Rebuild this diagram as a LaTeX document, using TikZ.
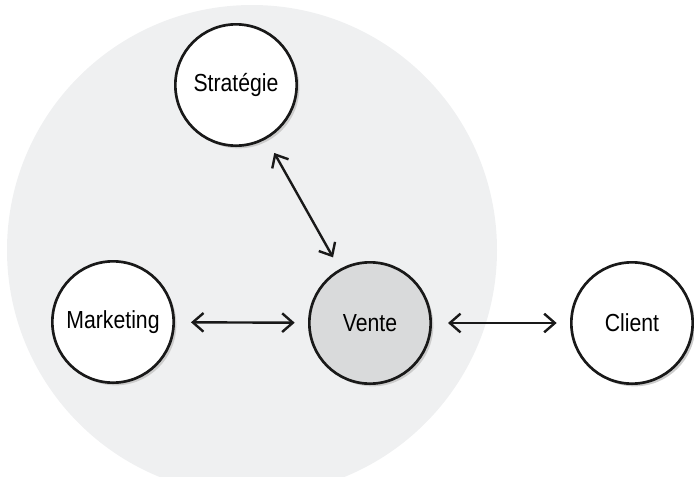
\documentclass[tikz,border=0pt]{standalone}
\usepackage{fontspec}
\setmainfont{Liberation Sans}[FakeStretch=0.86]
\usetikzlibrary{arrows.meta,shadows}

\definecolor{zone}{HTML}{EFF0F1}
\definecolor{focus}{HTML}{D9DADB}

\begin{document}
\begin{tikzpicture}[x=0.75pt, y=-0.75pt,
    pole/.style={circle, draw=black!90, line width=2pt, fill=white,
      minimum size=91pt, inner sep=0pt, font=\fontsize{18.5}{22}\selectfont,
      drop shadow={shadow xshift=2pt, shadow yshift=-2pt, fill=black!20, opacity=1}},
    link/.style={{Straight Barb[length=8pt,width=14pt]}-{Straight Barb[length=8pt,width=14pt]},
      line width=1.8pt, black!90, shorten <=12pt, shorten >=10pt}]
  \useasboundingbox (0,0) rectangle (694,476);
  % enterprise zone
  \begin{scope}
    \clip (0,0) rectangle (694,476);
    \fill[zone] (252,250) circle[radius=245];
  \end{scope}
  \node[pole] (S) at (236,85) {Stratégie};
  \node[pole] (M) at (113,322) {Marketing};
  \node[pole, fill=focus] (V) at (370,323) {Vente};
  \node[pole] (C) at (632,323) {Client};
  \draw[link] (S) -- (V);
  \draw[link] (M) -- (V);
  \draw[link] (V) -- (C);
  %  \draw[dashed] (M) -- (S);
\end{tikzpicture}
\end{document}
